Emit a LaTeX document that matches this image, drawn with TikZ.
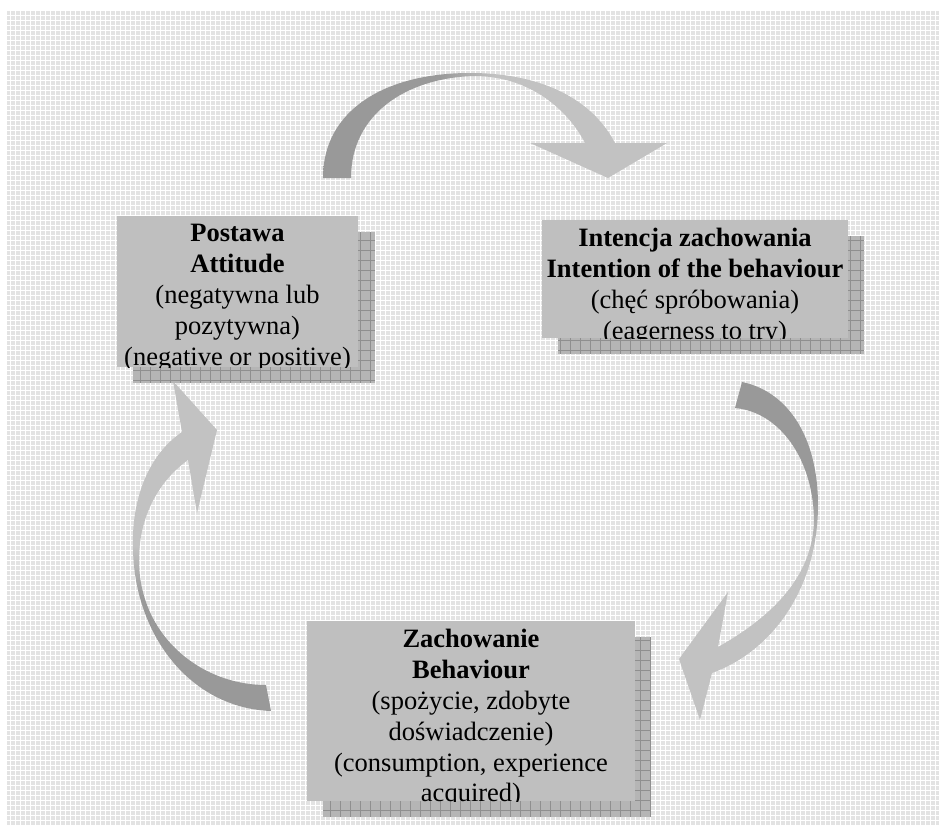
\documentclass[tikz,border=0pt]{standalone}
\usepackage{fontspec}
\setmainfont{Liberation Serif}
\usetikzlibrary{positioning}

\definecolor{boxgray}{gray}{0.75}
\definecolor{arrdark}{gray}{0.6}
\definecolor{arrlight}{gray}{0.76}
\definecolor{paper}{gray}{0.89}
\definecolor{backfill}{gray}{0.71}
\definecolor{backline}{gray}{0.56}

\pgfdeclarehorizontalshading{twist}{100bp}{color(0bp)=(arrdark); color(42bp)=(arrdark); color(50bp)=(arrlight); color(100bp)=(arrlight)}

\tikzset{
 box/.style={fill=boxgray, inner sep=0pt},
 backbox/.style={fill=backfill},
 backgrid/.style={draw=backline, line width=.4pt, step=5pt},
 boxtext/.style={align=center, inner sep=0pt, font=\fontsize{13.25}{15.4}\selectfont},
 turn/.style={shading=twist}
}

\begin{document}
\begin{tikzpicture}[x=.5pt, y=-.5pt]
\useasboundingbox (0,0) rectangle (939,825);
% paper
\fill[paper] (7,10) rectangle (939,825);
\draw[white, line width=.5pt, step=2.5pt] (7,10) grid (939,825);

% arrows
\shade[turn] (323,178) -- (351,178)
  .. controls (351,115) and (405,78) .. (474,76)
  .. controls (530,76) and (568,110) .. (585,143)
  -- (530,143) -- (608,178) -- (667,143) -- (615,143)
  .. controls (590,95) and (535,73) .. (470,73)
  .. controls (385,73) and (323,110) .. (323,178) -- cycle;
\shade[turn, shading angle=-90] (742,382)
  .. controls (790,392) and (818,440) .. (818,505)
  .. controls (818,585) and (775,650) .. (712,673)
  -- (700,720) -- (679,659) -- (728,592) -- (718,647)
  .. controls (775,615) and (812,575) .. (814,522)
  .. controls (814,460) and (780,412) .. (735,408) -- cycle;
\shade[turn, shading angle=90] (271,711) -- (266,685)
  .. controls (200,685) and (139,635) .. (139,560)
  .. controls (139,515) and (160,480) .. (188,460)
  -- (197,513) -- (217,430) -- (173,381) -- (182,432)
  .. controls (148,455) and (131,500) .. (133,550)
  .. controls (135,635) and (190,708) .. (271,711) -- cycle;

% shadows
\fill[backbox] (133,232) rectangle (375,383);
\draw[backgrid] (133,232) grid (375,383);
\fill[backbox] (558,236) rectangle (864,354);
\draw[backgrid] (558,236) grid (864,354);
\fill[backbox] (323,637) rectangle (651,817);
\draw[backgrid] (323,637) grid (651,817);

% boxes
\node[box, minimum width=120.5pt, minimum height=75.5pt] (postawa) at (237.5,291.5) {};
\begin{scope}
\clip (postawa.south west) rectangle (postawa.north east);
\node[boxtext, below=4.25pt of postawa.north] (postawa-txt)
  {\textbf{Postawa}\\ \textbf{Attitude}\\ (negatywna lub\\ pozytywna)\\ (negative or positive)};
\end{scope}

\node[box, minimum width=153pt, minimum height=59pt] (intencja) at (695,279) {};
\begin{scope}
\clip (intencja.south west) rectangle (intencja.north east);
\node[boxtext, below=4.25pt of intencja.north] (intencja-txt)
  {\textbf{Intencja zachowania}\\ \textbf{Intention of the behaviour}\\ (chęć spróbowania)\\ (eagerness to try)};
\end{scope}

\node[box, minimum width=164pt, minimum height=90pt] (zachowanie) at (471,711) {};
\begin{scope}
\clip (zachowanie.south west) rectangle (zachowanie.north east);
\node[boxtext, below=4.25pt of zachowanie.north] (zachowanie-txt)
  {\textbf{Zachowanie}\\ \textbf{Behaviour}\\ (spożycie, zdobyte\\ doświadczenie)\\ (consumption, experience\\ acquired)};
\end{scope}
\end{tikzpicture}
\end{document}
